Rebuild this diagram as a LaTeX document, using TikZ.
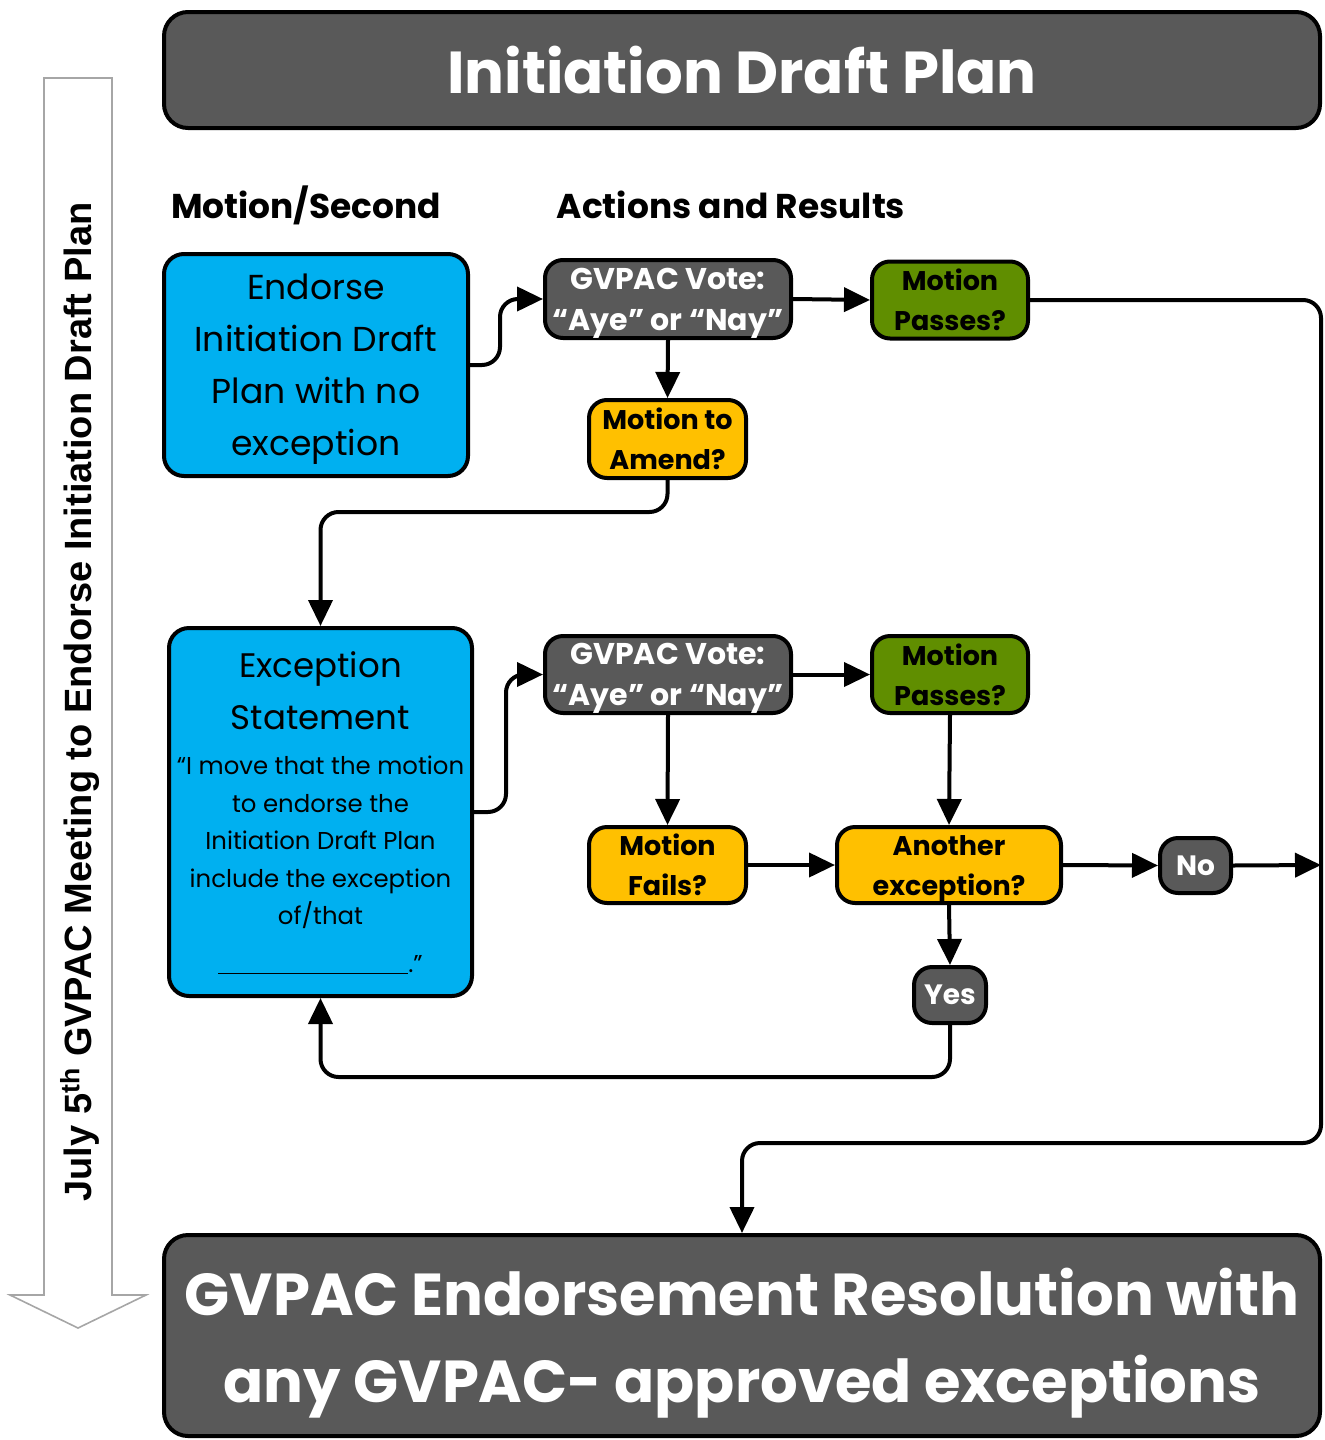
\documentclass[tikz,border=0pt]{standalone}
\usepackage{fontspec}
\setmainfont{Poppins}
\newfontfamily\sidefont{Liberation Sans}
\usetikzlibrary{arrows.meta}
\definecolor{boxgray}{RGB}{89,89,89}
\definecolor{boxblue}{RGB}{0,176,240}
\definecolor{boxgreen}{RGB}{96,142,0}
\definecolor{boxyellow}{RGB}{255,192,0}
\definecolor{arrowgray}{RGB}{166,166,166}
\newcommand{\BigLine}{\fontsize{17.3pt}{26pt}\selectfont}
\newcommand{\TitleLine}{\fontsize{17pt}{26pt}\selectfont}
\newcommand{\SmallLine}{\fontsize{12.2pt}{18.75pt}\selectfont}
\begin{document}
\begin{tikzpicture}[x=0.5pt,y=-0.5pt,
  box/.style={draw=black, line width=2pt, rounded corners=9pt, inner sep=0pt, align=center, text depth=0pt},
  graybox/.style={box, fill=boxgray, text=white, font=\bfseries\fontsize{15pt}{20.5pt}\selectfont},
  greenbox/.style={box, fill=boxgreen, text=black, font=\bfseries\fontsize{13.5pt}{20pt}\selectfont},
  yellowbox/.style={box, fill=boxyellow, text=black, font=\bfseries\fontsize{13.5pt}{20pt}\selectfont},
  bluebox/.style={box, fill=boxblue, text=black, rounded corners=10pt},
  bigbox/.style={box, fill=boxgray, text=white, rounded corners=12pt},
  header/.style={font=\bfseries\fontsize{17.2pt}{22pt}\selectfont, text=black, inner sep=0pt},
  conn/.style={draw=black, line width=2pt, rounded corners=9pt, -{Triangle[length=13pt,width=12pt]}}
]
\useasboundingbox (0,0) rectangle (1324,1440);

% left timeline arrow
\draw[arrowgray, line width=0.8pt, fill=white]
  (44,78) -- (112,78) -- (112,1295) -- (146,1295) -- (78,1328) -- (10,1295) -- (44,1295) -- cycle;
\node[rotate=90, inner sep=0pt, font=\sidefont\bfseries\fontsize{19pt}{22pt}\selectfont] (side) at (80,702)
  {July 5\textsuperscript{th} GVPAC Meeting to Endorse Initiation Draft Plan};

% title and result
\node[bigbox, minimum width=578pt, minimum height=58pt, font=\bfseries\fontsize{29.6pt}{36pt}\selectfont] (top) at (742,70) {Initiation Draft Plan};
\node[bigbox, minimum width=578pt, minimum height=100.5pt, font=\bfseries\fontsize{29.6pt}{43.5pt}\selectfont] (bottom) at (742,1335.5)
  {GVPAC Endorsement Resolution with\\any GVPAC- approved exceptions};

% headers
\node[header] (h1) at (306,205) {Motion/Second};
\node[header] (h2) at (731,205) {Actions and Results};

% first row
\node[bluebox, minimum width=152pt, minimum height=111pt, font=\BigLine] (blue1) at (316,365)
  {Endorse\\Initiation Draft\\Plan with no\\exception};
\node[graybox, minimum width=123pt, minimum height=39pt] (vote1) at (668,299) {GVPAC Vote:\\“Aye” or “Nay”};
\node[greenbox, minimum width=78pt, minimum height=38.5pt] (pass1) at (950,300) {Motion\\Passes?};
\node[yellowbox, minimum width=78.5pt, minimum height=39pt] (amend) at (667.5,439) {Motion to\\Amend?};

% second part
\node[bluebox, minimum width=151.5pt, minimum height=184pt, font=\SmallLine] (blue2) at (320.5,812)
  {\TitleLine Exception\\[7.25pt]
   \TitleLine Statement\\[3.75pt]
   \SmallLine “I move that the motion\\
   \SmallLine to endorse the\\
   \SmallLine Initiation Draft Plan\\
   \SmallLine include the exception\\
   \SmallLine of/that\\[5pt]
   \SmallLine \rule[-1pt]{95pt}{0.6pt}.”};
\node[graybox, minimum width=123pt, minimum height=38.5pt] (vote2) at (668,674.5) {GVPAC Vote:\\“Aye” or “Nay”};
\node[greenbox, minimum width=78pt, minimum height=38.5pt] (pass2) at (950,674.5) {Motion\\Passes?};
\node[yellowbox, minimum width=78.5pt, minimum height=38pt] (fails) at (667.5,865) {Motion\\Fails?};
\node[yellowbox, minimum width=112pt, minimum height=38pt] (another) at (949,865) {Another\\exception?};
\node[graybox, minimum width=35.5pt, minimum height=27.5pt, font=\bfseries\fontsize{14pt}{18pt}\selectfont] (no) at (1195.5,865.5) {No};
\node[graybox, minimum width=36pt, minimum height=28pt, font=\bfseries\fontsize{14pt}{18pt}\selectfont] (yes) at (950,995) {Yes};

\coordinate (rightline) at (1321,865);

% connectors
\draw[conn] (blue1.east) -- ++(30,0) |- (vote1.west);
\draw[conn] (vote1.east) -- (pass1.west);
\draw[conn] (vote1.south) -- (amend.north);
\draw[conn] (pass1.east) -| (1321,1143) -| (bottom.north);
\draw[conn] (amend.south) -- ++(0,32) -| (blue2.north);
\draw[conn] (blue2.east) -- ++(32,0) |- (vote2.west);
\draw[conn] (vote2.east) -- (pass2.west);
\draw[conn] (vote2.south) -- (fails.north);
\draw[conn] (pass2.south) -- (another.north);
\draw[conn] (fails.east) -- (another.west);
\draw[conn] (another.east) -- (no.west);
\draw[conn] (no.east) -- (rightline);
\draw[conn] (another.south) -- (yes.north);
\draw[conn] (yes.south) -- ++(0,52) -| (blue2.south);
\end{tikzpicture}
\end{document}
